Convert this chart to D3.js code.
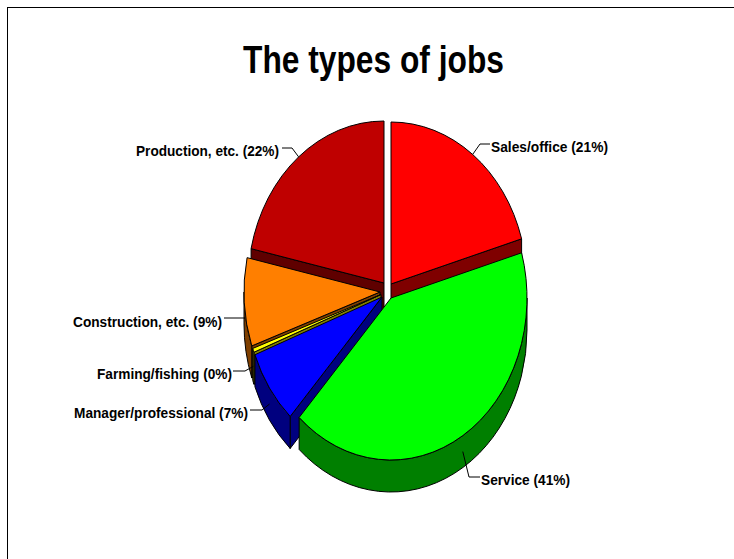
<!DOCTYPE html>
<html>
<head>
<meta charset="utf-8">
<script src="https://cdn.jsdelivr.net/npm/d3@7/dist/d3.min.js"></script>
<style>html,body{margin:0;padding:0;background:#fff;overflow:hidden}svg{display:block}</style>
</head>
<body>
<script>
const categories = ["Sales/office", "Service", "Manager/professional", "Farming/fishing", "Construction, etc.", "Production, etc."];
const values = [20.5, 41.3, 7.4, 0.4, 8.8, 21.6];
const topColors = ["#ff0000", "#00ff00", "#0000ff", "#ffff00", "#ff7f00", "#bf0000"];
const wallColors = ["#7f0000", "#007f00", "#00007f", "#7f7f00", "#7f3f00", "#5f0000"];
const titleText = "The types of jobs";

// layout
const W = 734, H = 559;
const RX = 136, RY = 162, DEPTH = 32;
const centerX = [391, 391, 382, 381, 380, 384];
const centerY = [284, 298, 297, 294.5, 292, 283];
const paintOrder = [0, 5, 4, 3, 2, 1];
const labelAnchorX = [491, 481, 248, 232, 222, 279];
const labelMidY = [147, 480, 413, 374, 322, 151];
const labelWidth = [117, 89, 174, 135, 149, 143];
const elbowX = [480, 469, 262, 245, 245, 292];
const elbowY = [144, 477, 410, 371, 318, 148];
const lineEndX = [490, 480, 250, 233, 224, 282];

const svg = d3.select("body").append("svg").attr("width", W).attr("height", H);
svg.append("rect").attr("width", W).attr("height", H).attr("fill", "#fff");
svg.append("rect").attr("x", 7.5).attr("y", 7.5).attr("width", W + 20).attr("height", H + 20)
  .attr("fill", "none").attr("stroke", "#000").attr("stroke-width", 1);

svg.append("text").attr("x", 373.5).attr("y", 73).attr("text-anchor", "middle")
  .attr("font-family", "Liberation Sans").attr("font-weight", "bold").attr("font-size", 38)
  .attr("textLength", 261).attr("lengthAdjust", "spacingAndGlyphs").text(titleText);

const arcs = d3.pie().sort(null).value(d => d)(values);
const pt = (i, a, dy = 0) => [centerX[i] + RX * Math.sin(a), centerY[i] - RY * Math.cos(a) + dy];
const ell = (i, a0, a1, dy = 0) => {
  const p = pt(i, a1, dy);
  return `A${RX},${RY} 0 ${Math.abs(a1 - a0) > Math.PI ? 1 : 0} ${a1 > a0 ? 1 : 0} ${p[0]},${p[1]}`;
};
const g = svg.append("g").attr("stroke", "#000").attr("stroke-width", 1).attr("stroke-linejoin", "round");

paintOrder.forEach(i => {
  const d = arcs[i];
  const a0 = d.startAngle, a1 = d.endAngle;
  const c = [centerX[i], centerY[i]];
  const face = a => {
    const p = pt(i, a);
    return `M${c}L${p}L${p[0]},${p[1] + DEPTH}L${c[0]},${c[1] + DEPTH}Z`;
  };
  if (Math.sin(a0) < -1e-6) g.append("path").attr("d", face(a0)).attr("fill", wallColors[i]);
  if (Math.sin(a1) > 1e-6) g.append("path").attr("d", face(a1)).attr("fill", wallColors[i]);
  const w0 = Math.max(a0, Math.PI / 2), w1 = Math.min(a1, 3 * Math.PI / 2);
  if (w1 > w0) {
    g.append("path").attr("fill", wallColors[i]).attr("d",
      `M${pt(i, w0)}${ell(i, w0, w1)}L${pt(i, w1, DEPTH)}${ell(i, w1, w0, DEPTH)}Z`);
  }
  g.append("path").attr("fill", topColors[i]).attr("d", `M${c}L${pt(i, a0)}${ell(i, a0, a1)}Z`);
});

arcs.forEach((d, i) => {
  const mid = (d.startAngle + d.endAngle) / 2;
  const front = mid > Math.PI / 2 && mid < 3 * Math.PI / 2;
  const p = pt(i, mid, front ? DEPTH / 2 : 0);
  svg.append("path").attr("fill", "none").attr("stroke", "#000").attr("stroke-width", 1)
    .attr("d", d3.line()([p, [elbowX[i], elbowY[i]], [lineEndX[i], elbowY[i]]]));
  const right = mid < Math.PI;
  svg.append("text").attr("x", labelAnchorX[i]).attr("y", labelMidY[i] + 5)
    .attr("text-anchor", right ? "start" : "end")
    .attr("font-family", "Liberation Sans").attr("font-weight", "bold").attr("font-size", 15)
    .attr("textLength", labelWidth[i]).attr("lengthAdjust", "spacingAndGlyphs")
    .text(`${categories[i]} (${Math.round(values[i])}%)`);
});
</script>
</body>
</html>
